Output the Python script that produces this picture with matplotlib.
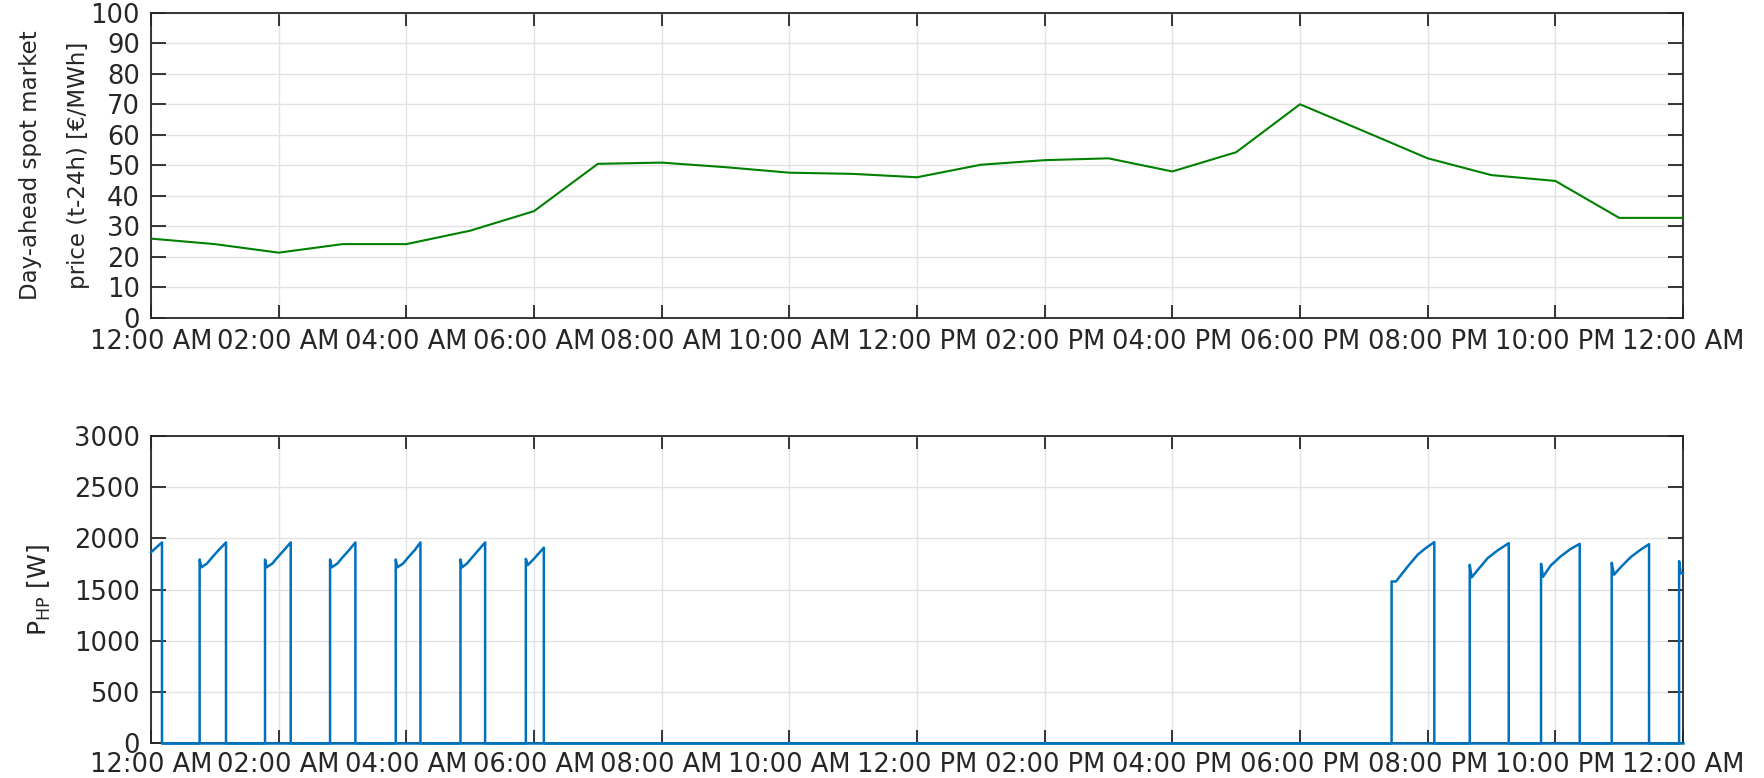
import matplotlib
matplotlib.use("Agg")
import matplotlib.pyplot as plt

# hourly day-ahead price (t-24h), EUR/MWh
price_hours = list(range(25))
price_values = [26.0, 24.2, 21.4, 24.2, 24.2, 28.6, 35.0, 50.5, 50.9, 49.4,
                47.6, 47.2, 46.1, 50.2, 51.7, 52.3, 48.0, 54.3, 70.0, 61.2,
                52.3, 46.8, 44.9, 32.8, 32.8]

# heat pump electrical power, one row per on-cycle (hours, watts)
hp_hours = [
    0.000, 0.172, 0.172,
    0.762, 0.762, 0.788, 0.877, 0.956, 1.060, 1.175, 1.175,
    1.786, 1.786, 1.812, 1.901, 1.980, 2.084, 2.189, 2.189,
    2.805, 2.805, 2.831, 2.920, 2.999, 3.103, 3.202, 3.202,
    3.834, 3.834, 3.860, 3.949, 4.028, 4.132, 4.221, 4.221,
    4.848, 4.848, 4.874, 4.950, 5.030, 5.130, 5.234, 5.234,
    5.872, 5.872, 5.903, 5.997, 6.076, 6.154, 6.154,
    19.435, 19.435, 19.503, 19.581, 19.686, 19.843, 19.973, 20.104, 20.104,
    20.659, 20.659, 20.690, 20.784, 20.941, 21.098, 21.270, 21.270,
    21.776, 21.776, 21.807, 21.927, 22.084, 22.241, 22.382, 22.382,
    22.883, 22.883, 22.920, 23.024, 23.181, 23.338, 23.468, 23.468,
    23.939, 23.939, 23.965, 24.000,
]
hp_watts = [
    1865, 1961, 0,
    0, 1794, 1718, 1755, 1814, 1886, 1961, 0,
    0, 1794, 1718, 1755, 1814, 1886, 1961, 0,
    0, 1794, 1718, 1755, 1814, 1886, 1961, 0,
    0, 1794, 1718, 1755, 1814, 1886, 1961, 0,
    0, 1794, 1718, 1755, 1814, 1886, 1961, 0,
    0, 1800, 1740, 1800, 1855, 1910, 0,
    0, 1580, 1580, 1642, 1725, 1841, 1907, 1964, 0,
    0, 1742, 1620, 1692, 1808, 1884, 1954, 0,
    0, 1752, 1626, 1735, 1825, 1898, 1947, 0,
    0, 1762, 1646, 1719, 1818, 1891, 1944, 0,
    0, 1778, 1659, 1659,
]
# the pump is off between the on-cycles
off_hours = [0.172, 24.0]
off_watts = [0, 0]

time_ticks = list(range(0, 25, 2))
time_labels = ["12:00 AM", "02:00 AM", "04:00 AM", "06:00 AM", "08:00 AM",
               "10:00 AM", "12:00 PM", "02:00 PM", "04:00 PM", "06:00 PM",
               "08:00 PM", "10:00 PM", "12:00 AM"]
price_ticks = list(range(0, 101, 10))
power_ticks = list(range(0, 3001, 500))

txt = "#262626"
plt.rcParams.update({
    "font.family": ["DejaVu Sans"],
    "font.size": 18.5,
    "text.color": txt,
    "axes.labelcolor": txt,
    "xtick.color": txt,
    "ytick.color": txt,
    "mathtext.fontset": "dejavusans",
})


def style_axes(ax, xpad):
    for sp in ax.spines.values():
        sp.set_color(txt)
        sp.set_linewidth(1.3)
    ax.grid(True, color="#e2e2e2", linewidth=1.0)
    ax.set_axisbelow(True)
    ax.tick_params(axis="x", direction="in", length=9.5, width=1.3,
                   top=True, pad=xpad, labelsize=18.5)
    ax.tick_params(axis="y", direction="in", length=10.5, width=1.3,
                   right=True, pad=8, labelsize=18.5)
    ax.set_xlim(0, 24)
    ax.set_xticks(time_ticks)
    ax.set_xticklabels(time_labels)


fig = plt.figure(figsize=(17.64, 7.78), dpi=100)
W, H = 1764.0, 778.0
ax1 = fig.add_axes([151 / W, 1 - 318 / H, 1532 / W, 305.3 / H])
ax2 = fig.add_axes([151 / W, 1 - 743.3 / H, 1532 / W, 307.3 / H])

ax1.plot(price_hours, price_values, color="#008000", linewidth=1.5, zorder=3)
style_axes(ax1, 8)
ax1.set_ylim(0, 100)
ax1.set_yticks(price_ticks)
ax1.set_ylabel("Day-ahead spot market\nprice (t-24h) [€/MWh]",
               fontsize=16.5, linespacing=2.4)
ax1.yaxis.set_label_coords(-0.040, 0.5)

ax2.plot(off_hours, off_watts, color="#0072BD", linewidth=1.8,
         zorder=3, clip_on=False)
ax2.plot(hp_hours, hp_watts, color="#0072BD", linewidth=1.8,
         zorder=3, clip_on=False)
style_axes(ax2, 6)
ax2.set_ylim(0, 3000)
ax2.set_yticks(power_ticks)
ax2.set_ylabel(r"P$_{\mathrm{HP}}$ [W]", fontsize=18)
ax2.yaxis.set_label_coords(-0.064, 0.5)

fig.savefig("out.png", dpi=100)
